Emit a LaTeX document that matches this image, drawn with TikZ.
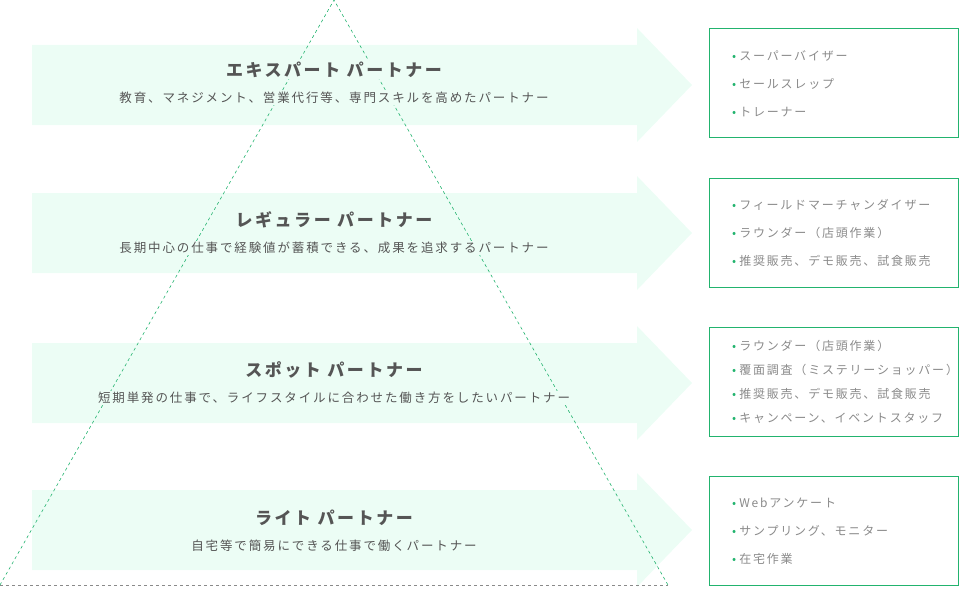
\documentclass[tikz,border=0pt]{standalone}
\usepackage{fontspec}
\setmainfont{Noto Sans CJK JP}
\newfontfamily\wide[LetterSpace=15]{Noto Sans CJK JP}
\usetikzlibrary{positioning}
\definecolor{mint}{HTML}{ECFDF5}
\definecolor{leaf}{HTML}{22B36E}
\definecolor{ink}{HTML}{555555}
\definecolor{soft}{HTML}{8A8A8A}
\tikzstyle{band}=[fill=mint]
\tikzstyle{title}=[fill=mint,inner sep=1pt,text=ink,font=\wide\fontsize{17}{20}\selectfont\bfseries]
\tikzstyle{sub}=[fill=mint,inner sep=1pt,text=ink,font=\wide\fontsize{12.5}{15}\selectfont]
\tikzstyle{panel}=[draw=leaf,line width=0.8pt]
\tikzstyle{item}=[anchor=west,text=soft,inner sep=0pt,font=\wide\fontsize{12}{14}\selectfont]
\newcommand{\dotmark}{{\color{leaf}\textbullet}\hspace{3pt}}

\begin{document}
\begin{tikzpicture}[x=1pt,y=-1pt]
   \useasboundingbox (0,0) rectangle (960,591);

   % bands
   \foreach \c in {85,233,383,530}{
     \fill[band] (32,\c-40) -- (637,\c-40) -- (637,\c-57) -- (692,\c)
       -- (637,\c+57) -- (637,\c+40) -- (32,\c+40) -- cycle;
   }

   % pyramid
   \coordinate (apex) at (334,0);
   \coordinate (bl) at (0,585);
   \coordinate (br) at (668,585);
   \draw[leaf,dashed,line width=0.6pt] (bl) -- (apex) -- (br);
   \draw[soft,dashed,line width=0.6pt] (bl) -- (br);

   \node[title] (t1) at (334,70) {エキスパート パートナー};
   \node[sub] (s1) at (334,98) {教育、マネジメント、営業代行等、専門スキルを高めたパートナー};
   \node[title] (t2) at (334,220) {レギュラー パートナー};
   \node[sub] (s2) at (334,248) {長期中心の仕事で経験値が蓄積できる、成果を追求するパートナー};
   \node[title] (t3) at (334,370) {スポット パートナー};
   \node[sub] (s3) at (334,398) {短期単発の仕事で、ライフスタイルに合わせた働き方をしたいパートナー};
   \node[title] (t4) at (334,518) {ライト パートナー};
   \node[sub] (s4) at (334,546) {自宅等で簡易にできる仕事で働くパートナー};

   % panels
   \draw[panel] (709,28) rectangle (958,137);
   \draw[panel] (709,178) rectangle (958,287);
   \draw[panel] (709,327) rectangle (958,436);
   \draw[panel] (709,476) rectangle (958,585);

   \node[item] (a1) at (732,56) {\dotmark スーパーバイザー};
   \node[item] (a2) at (732,84) {\dotmark セールスレップ};
   \node[item] (a3) at (732,112) {\dotmark トレーナー};

   \node[item] (b1) at (732,205) {\dotmark フィールドマーチャンダイザー};
   \node[item] (b2) at (732,233) {\dotmark ラウンダー（店頭作業）};
   \node[item] (b3) at (732,261) {\dotmark 推奨販売、デモ販売、試食販売};

   \node[item] (c1) at (732,346) {\dotmark ラウンダー（店頭作業）};
   \node[item] (c2) at (732,370) {\dotmark 覆面調査（ミステリーショッパー）};
   \node[item] (c3) at (732,394) {\dotmark 推奨販売、デモ販売、試食販売};
   \node[item] (c4) at (732,418) {\dotmark キャンペーン、イベントスタッフ};

   \node[item] (d1) at (732,503) {\dotmark Webアンケート};
   \node[item] (d2) at (732,531) {\dotmark サンプリング、モニター};
   \node[item] (d3) at (732,559) {\dotmark 在宅作業};
\end{tikzpicture}
\end{document}
